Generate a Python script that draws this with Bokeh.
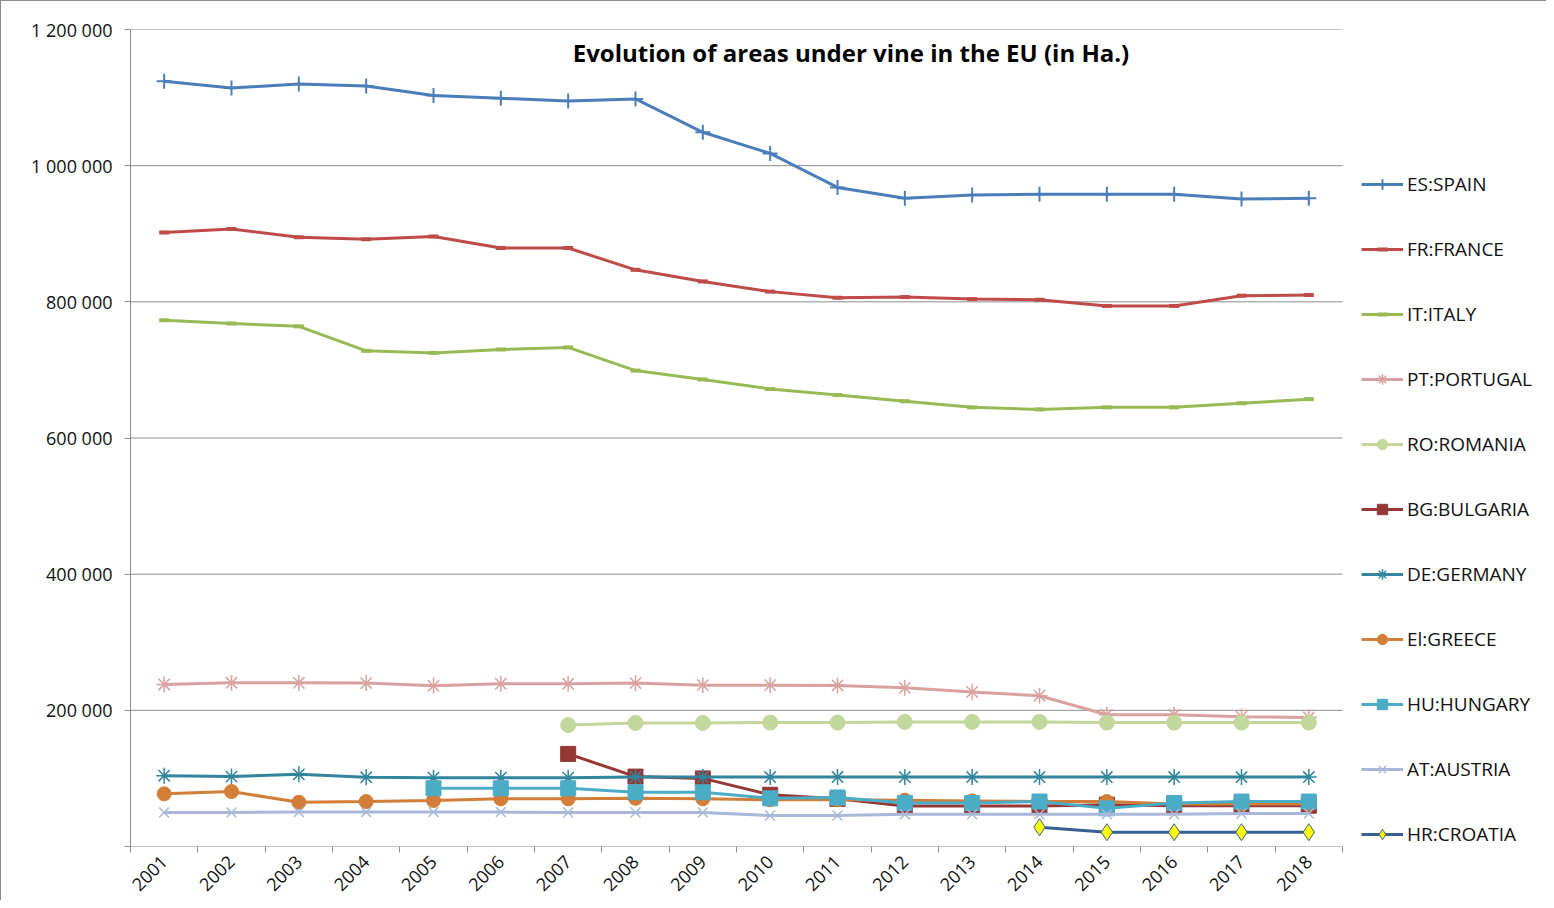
import numpy as np
from bokeh.plotting import figure
from bokeh.models import Range1d, FixedTicker, Legend, LegendItem, Label
from bokeh.embed import file_html
from bokeh.resources import INLINE

# ---------------- data ----------------
YEARS = list(range(2001, 2019))

ES_SPAIN = [1124000, 1114000, 1120000, 1117000, 1103000, 1099000, 1095000, 1098000, 1049000,
            1018000, 968000, 952000, 957000, 958000, 958000, 958000, 951000, 952000]
FR_FRANCE = [902000, 907000, 895000, 892000, 896000, 879000, 879000, 847000, 830000,
             815000, 806000, 807000, 804000, 803000, 794000, 794000, 809000, 810000]
IT_ITALY = [773000, 768000, 764000, 728000, 725000, 730000, 733000, 699000, 686000,
            672000, 663000, 654000, 645000, 642000, 645000, 645000, 651000, 657000]
PT_PORTUGAL = [238000, 240500, 240500, 240000, 236000, 239000, 239000, 240000, 237000,
               237000, 236500, 233000, 227000, 221500, 193500, 193500, 190500, 189500]
RO_ROMANIA = [None, None, None, None, None, None, 178500, 181500, 181500,
              182000, 182000, 183000, 183000, 183000, 182000, 182000, 182000, 182000]
BG_BULGARIA = [None, None, None, None, None, None, 136000, 102700, 100000,
               76000, 70000, 59500, 59500, 59500, 61500, 60000, 60000, 60000]
DE_GERMANY = [104000, 102700, 106000, 101700, 101000, 101000, 101000, 102000, 102000,
              102000, 102000, 102000, 102000, 102000, 102000, 102000, 102000, 102000]
EL_GREECE = [77300, 80700, 65000, 66000, 67500, 70000, 70000, 70700, 70000,
             68500, 68500, 68000, 67000, 66000, 66000, 62500, 62500, 62500]
HU_HUNGARY = [None, None, None, None, 85500, 85500, 85500, 79700, 79700,
              70700, 72000, 64000, 64000, 66000, 56000, 64000, 66000, 66000]
AT_AUSTRIA = [50000, 50000, 50500, 50500, 50500, 50500, 50000, 50000, 50000,
              45500, 45500, 47400, 47400, 47400, 47400, 47400, 48500, 48500]
HR_CROATIA = [None, None, None, None, None, None, None, None, None,
              None, None, None, None, 28300, 21000, 21000, 21000, 21000]

SERIES_NAMES = ["ES:SPAIN", "FR:FRANCE", "IT:ITALY", "PT:PORTUGAL", "RO:ROMANIA",
                "BG:BULGARIA", "DE:GERMANY", "El:GREECE", "HU:HUNGARY", "AT:AUSTRIA",
                "HR:CROATIA"]
SERIES_VALUES = [ES_SPAIN, FR_FRANCE, IT_ITALY, PT_PORTUGAL, RO_ROMANIA, BG_BULGARIA,
                 DE_GERMANY, EL_GREECE, HU_HUNGARY, AT_AUSTRIA, HR_CROATIA]

Y_TICKS = [0, 200000, 400000, 600000, 800000, 1000000, 1200000]
TITLE = "Evolution of areas under vine in the EU (in Ha.)"

# ---------------- styles / layout ----------------
STYLES = [
    dict(color="#4A7EBB", marker="cross", size=15, fill="#4A7EBB", mlw=2),
    dict(color="#BE4B48", marker="dash", size=10, fill="#BE4B48", mlw=4),
    dict(color="#98B954", marker="dash", size=10, fill="#98B954", mlw=4),
    dict(color="#D9A1A0", marker="asterisk", size=16, fill="#D9A1A0", mlw=1.5),
    dict(color="#C3D69B", marker="circle", size=15, fill="#C3D69B", mlw=1),
    dict(color="#953735", marker="square", size=15, fill="#953735", mlw=1),
    dict(color="#31859C", marker="asterisk", size=16, fill="#31859C", mlw=1.5),
    dict(color="#D27D38", marker="circle", size=14, fill="#D27D38", mlw=1),
    dict(color="#4BACC6", marker="square", size=15, fill="#4BACC6", mlw=1),
    dict(color="#A9B8D9", marker="x", size=14, fill="#A9B8D9", mlw=1.5),
    dict(color="#376092", marker="diamond", size=17, fill="#FFFF00", mlw=1),
]

FONT = "Open Sans"
GRID_COLOR = "#8c8c8c"
W, H = 1546, 900
LEFT, TOP, BOTTOM = 129, 28, 55
PLOT_PX = 1212                       # pixel width of the 18 year categories
X0 = YEARS[0] - 0.5
X1 = YEARS[-1] + 0.5
X_END = X0 + (W - LEFT) * (X1 - X0) / PLOT_PX   # frame extends under the legend

p = figure(width=W, height=H, output_backend="svg", toolbar_location=None,
           x_range=Range1d(X0, X_END), y_range=Range1d(0, 1200000),
           min_border_left=LEFT, min_border_right=0, min_border_top=TOP,
           min_border_bottom=BOTTOM)
p.outline_line_color = None
p.background_fill_color = "white"
p.border_fill_color = "white"
p.styles = {"border-left": "1px solid #8c8c8c", "border-top": "1px solid #8c8c8c"}

# y axis
p.yaxis.ticker = FixedTicker(ticks=Y_TICKS)
p.yaxis.major_label_overrides = {t: ("" if t == 0 else f"{t:,}".replace(",", " ")) for t in Y_TICKS}
p.yaxis.axis_line_color = GRID_COLOR
p.yaxis.major_tick_line_color = GRID_COLOR
p.yaxis.major_tick_out = 6
p.yaxis.major_tick_in = 0
p.yaxis.minor_tick_line_color = None
p.yaxis.major_label_standoff = 12
p.yaxis.major_label_text_font = FONT
p.yaxis.major_label_text_font_size = "18px"
p.yaxis.major_label_text_color = "#111111"

# x axis
p.xaxis.ticker = FixedTicker(ticks=YEARS, minor_ticks=[y - 0.5 for y in YEARS] + [X1])
p.xaxis.axis_line_color = None
p.xaxis.major_tick_out = 0
p.xaxis.major_tick_in = 0
p.xaxis.minor_tick_out = 6
p.xaxis.minor_tick_in = 0
p.xaxis.minor_tick_line_color = GRID_COLOR
p.xaxis.major_label_orientation = np.pi / 4
p.xaxis.major_label_text_font = FONT
p.xaxis.major_label_text_font_size = "18px"
p.xaxis.major_label_text_color = "#111111"
p.xaxis.major_label_standoff = 6
p.xaxis.major_label_overrides = {y: str(y) for y in YEARS}

# horizontal gridlines limited to the category area
p.xgrid.visible = False
p.ygrid.visible = False
p.segment(x0=[X0] * len(Y_TICKS), x1=[X1] * len(Y_TICKS), y0=Y_TICKS, y1=Y_TICKS,
          line_color=GRID_COLOR, line_width=1)

items = []
for name, vals, st in zip(SERIES_NAMES, SERIES_VALUES, STYLES):
    y = np.array([np.nan if v is None else v for v in vals], dtype=float)
    r1 = p.line(YEARS, y, line_color=st["color"], line_width=3)
    r2 = p.scatter(YEARS, y, marker=st["marker"], size=st["size"],
                   line_color=st["color"], fill_color=st["fill"], line_width=st["mlw"])
    items.append(LegendItem(label=name, renderers=[r1, r2]))

legend = Legend(items=items, location=(1360 - LEFT, -1), orientation="vertical",
                padding=0, margin=0, spacing=39, label_height=26, glyph_height=26,
                glyph_width=42, label_standoff=4, border_line_color=None,
                background_fill_alpha=0, label_text_font=FONT,
                label_text_font_size="19px", label_text_color="#111111",
                label_text_baseline="middle")
p.add_layout(legend)

p.add_layout(Label(x=2011.2, y=1166000, text=TITLE, text_font=FONT,
                   text_font_style="bold", text_font_size="24px",
                   text_align="center", text_baseline="middle", text_color="#000000"))

open("out.html", "w").write(file_html(p, INLINE))
